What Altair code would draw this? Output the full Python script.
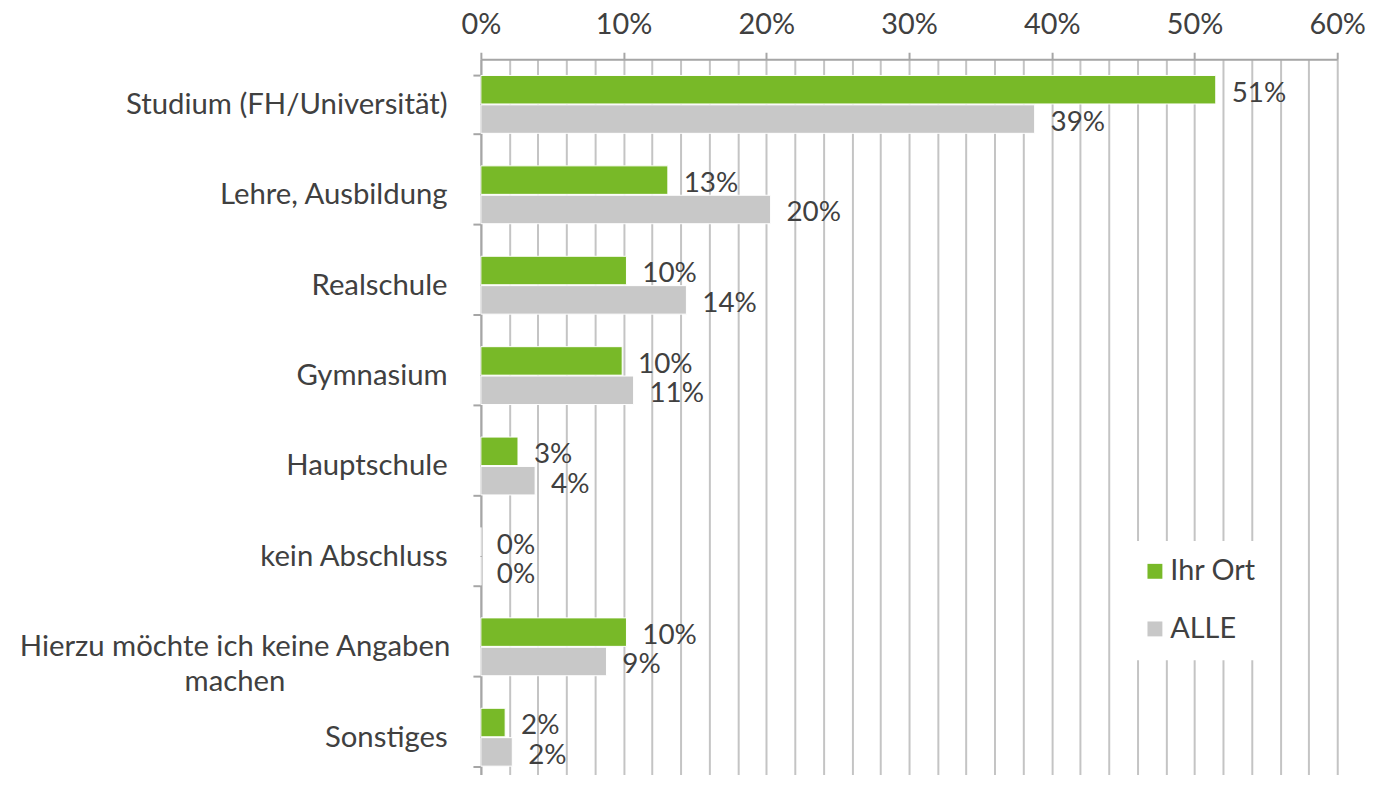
import altair as alt
import pandas as pd

categories = [
    "Studium (FH/Universität)",
    "Lehre, Ausbildung",
    "Realschule",
    "Gymnasium",
    "Hauptschule",
    "kein Abschluss",
    "Hierzu möchte ich keine Angaben machen",
    "Sonstiges",
]
ihr_ort = [0.5149, 0.131, 0.102, 0.099, 0.026, 0.0, 0.102, 0.017]
alle = [0.388, 0.203, 0.144, 0.107, 0.038, 0.0, 0.088, 0.022]
series = ["Ihr Ort", "ALLE"]
colors = ["#78B928", "#C8C8C8"]
x_ticks = [0.0, 0.02, 0.04, 0.06, 0.08, 0.10, 0.12, 0.14, 0.16, 0.18, 0.20,
           0.22, 0.24, 0.26, 0.28, 0.30, 0.32, 0.34, 0.36, 0.38, 0.40,
           0.42, 0.44, 0.46, 0.48, 0.50, 0.52, 0.54, 0.56, 0.58, 0.60]

rows = []
for c, a, b in zip(categories, ihr_ort, alle):
    rows.append({"cat": c, "series": series[0], "value": a})
    rows.append({"cat": c, "series": series[1], "value": b})
df = pd.DataFrame(rows)

FONT = "Lato"
FS = 29
TXT = "#404040"
LONG = "Hierzu möchte ich keine Angaben machen"

y_enc = alt.Y(
    "cat:N",
    sort=categories,
    scale=alt.Scale(paddingInner=0.36, paddingOuter=0.18),
    axis=alt.Axis(
        title=None,
        labelFont=FONT,
        labelFontSize=29.5,
        labelColor=TXT,
        labelLineHeight=35,
        labelLimit=700,
        labelExpr=f"datum.value == '{LONG}' ? ['Hierzu möchte ich keine Angaben', 'machen'] : datum.value",
        labelAlign={"condition": {"test": f"datum.value == '{LONG}'", "value": "center"}, "value": "right"},
        labelPadding={"condition": {"test": f"datum.value == '{LONG}'", "value": 240}, "value": 26},
        tickBand="extent",
        tickSize=8,
        tickColor="#A6A6A6",
        tickWidth=2,
        domainColor="#A6A6A6",
        domainWidth=2,
        grid=False,
        minExtent=476,
        maxExtent=476,
    ),
)
yoff = alt.YOffset("series:N", sort=series, scale=alt.Scale(paddingInner=0.03))

x_enc = alt.X(
    "value:Q",
    scale=alt.Scale(domain=[0, 0.6], nice=False),
    axis=alt.Axis(
        orient="top",
        title=None,
        values=x_ticks,
        format=".0%",
        labelExpr="(round(datum.value * 100) % 10 == 0) ? datum.label : ''",
        labelFont=FONT,
        labelFontSize=FS,
        labelColor=TXT,
        labelPadding=13,
        tickSize=7,
        tickWidth=2,
        tickColor="#A6A6A6",
        tickOpacity={"condition": {"test": "round(datum.value * 100) % 10 == 0", "value": 1}, "value": 0},
        domainColor="#A6A6A6",
        domainWidth=2,
        grid=True,
        gridColor="#C4C4C4",
        gridWidth=2,
        labelFlush=False,
        labelOverlap=False,
        minExtent=47,
        maxExtent=47,
    ),
)

bars = alt.Chart(df).mark_bar(stroke="white", strokeWidth=1).encode(
    x=x_enc,
    y=y_enc,
    yOffset=yoff,
    color=alt.Color(
        "series:N",
        sort=series,
        scale=alt.Scale(domain=series, range=colors),
        legend=alt.Legend(
            title=None,
            orient="none",
            legendX=648,
            legendY=485,
            fillColor="white",
            padding=16,
            symbolType="square",
            symbolSize=225,
            symbolStrokeWidth=0,
            labelFont=FONT,
            labelFontSize=FS,
            labelColor=TXT,
            rowPadding=28,
            labelOffset=1,
        ),
    ),
)

labels = alt.Chart(df).mark_text(
    align="left", baseline="middle", dx=16, dy=4, font=FONT, fontSize=28, color=TXT
).encode(
    x=x_enc,
    y=y_enc,
    yOffset=yoff,
    text=alt.Text("value:Q", format=".0%"),
)

chart = (
    alt.layer(bars, labels)
    .properties(width=862, height=728, padding={"left": 0, "top": 0, "right": 5, "bottom": -10})
    .configure_view(stroke=None)
    .configure(background="white")
)

chart.save("out.html", embed_options={"renderer": "svg", "actions": False})
